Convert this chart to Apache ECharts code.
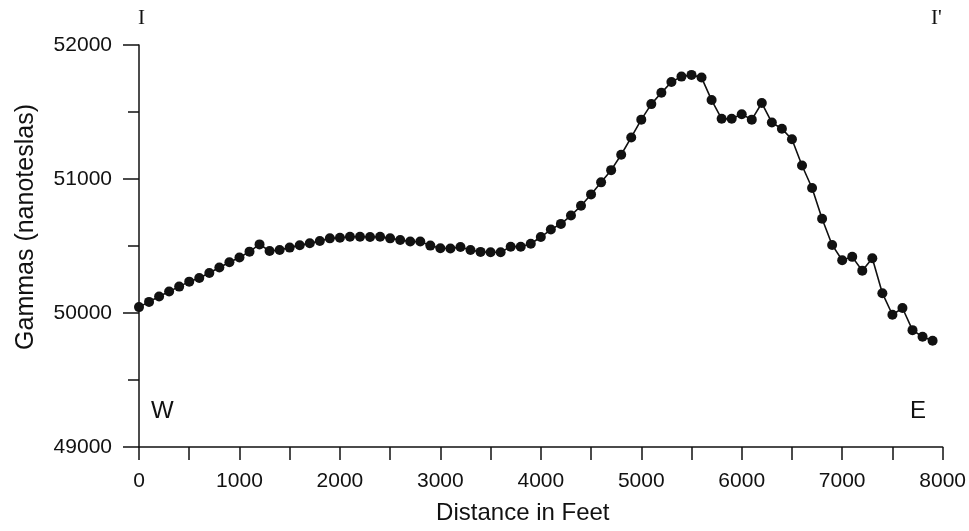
<!DOCTYPE html>
<html>
<head>
<meta charset="utf-8">
<title>Magnetic profile I–I'</title>
<script src="https://cdn.jsdelivr.net/npm/echarts@6/dist/echarts.min.js"></script>
<style>
  html, body { margin: 0; padding: 0; background: #fff; }
  #chart { width: 969px; height: 531px; }
</style>
</head>
<body>
<div id="chart"></div>
<script>
// Station distances along the traverse (feet), one reading every 100 ft
const distanceFt = [
  0, 100, 200, 300, 400, 500, 600, 700, 800, 900,
  1000, 1100, 1200, 1300, 1400, 1500, 1600, 1700, 1800, 1900,
  2000, 2100, 2200, 2300, 2400, 2500, 2600, 2700, 2800, 2900,
  3000, 3100, 3200, 3300, 3400, 3500, 3600, 3700, 3800, 3900,
  4000, 4100, 4200, 4300, 4400, 4500, 4600, 4700, 4800, 4900,
  5000, 5100, 5200, 5300, 5400, 5500, 5600, 5700, 5800, 5900,
  6000, 6100, 6200, 6300, 6400, 6500, 6600, 6700, 6800, 6900,
  7000, 7100, 7200, 7300, 7400, 7500, 7600, 7700, 7800, 7900
];

// Total magnetic field at each station (gammas / nT)
const gammas = [
  50044, 50083, 50123, 50160, 50197, 50234, 50261, 50298, 50340, 50379,
  50414, 50458, 50512, 50463, 50470, 50488, 50505, 50520, 50537, 50557,
  50562, 50569, 50569, 50567, 50569, 50557, 50545, 50533, 50533, 50503,
  50483, 50482, 50493, 50470, 50456, 50453, 50453, 50495, 50495, 50517,
  50567, 50623, 50665, 50727, 50800, 50885, 50975, 51066, 51181, 51310,
  51443, 51559, 51643, 51724, 51764, 51777, 51757, 51589, 51449, 51449,
  51483, 51443, 51567, 51421, 51375, 51296, 51101, 50933, 50704, 50508,
  50394, 50419, 50316, 50409, 50148, 49987, 50037, 49872, 49823, 49793
];

// Axis ranges
const xRange = [0, 8000];
const yRange = [49000, 52000];

// Profile end markers and compass directions
const profileStart = 'I';
const profileEnd = "I'";
const westLabel = 'W';
const eastLabel = 'E';

const sans = '"Liberation Sans", Arial, Helvetica, sans-serif';
const serif = '"Liberation Serif", "Times New Roman", serif';
const ink = '#111';

// plain integers, no thousands separators
const plain = v => String(Math.round(v));

const chart = echarts.init(document.getElementById('chart'), null, { renderer: 'canvas' });

chart.setOption({
  animation: false,
  backgroundColor: '#ffffff',
  grid: { left: 139, right: 22, top: 45, bottom: 84, containLabel: false },
  xAxis: {
    type: 'value',
    min: xRange[0],
    max: xRange[1],
    interval: 1000,
    name: 'Distance in Feet',
    nameLocation: 'middle',
    nameGap: 54,
    // title sits a little left of the axis centre
    nameTextStyle: { fontFamily: sans, fontSize: 24, color: ink, padding: [0, 36, 0, 0] },
    axisLine: { onZero: false, lineStyle: { color: ink, width: 1.5 } },
    axisTick: { inside: false, length: 13, lineStyle: { color: ink, width: 1.5 } },
    minorTick: { show: true, splitNumber: 2, length: 13, lineStyle: { color: ink, width: 1.5 } },
    axisLabel: { margin: 24, fontFamily: sans, fontSize: 21, color: ink, formatter: plain },
    splitLine: { show: false }
  },
  yAxis: {
    type: 'value',
    min: yRange[0],
    max: yRange[1],
    interval: 1000,
    name: 'Gammas (nanoteslas)',
    nameLocation: 'middle',
    nameGap: 100,
    // title sits a little above the axis centre
    nameTextStyle: { fontFamily: sans, fontSize: 25, color: ink, padding: [0, 0, 0, 38] },
    axisLine: { show: true, onZero: false, lineStyle: { color: ink, width: 1.5 } },
    axisTick: { inside: false, length: 16, lineStyle: { color: ink, width: 1.5 } },
    minorTick: { show: true, splitNumber: 2, length: 11, lineStyle: { color: ink, width: 1.5 } },
    axisLabel: { margin: 27, fontFamily: sans, fontSize: 21, color: ink, formatter: plain },
    splitLine: { show: false }
  },
  series: [{
    type: 'line',
    data: distanceFt.map((d, i) => [d, gammas[i]]),
    symbol: 'circle',
    symbolSize: 10,
    showSymbol: true,
    lineStyle: { color: ink, width: 1.6 },
    itemStyle: { color: ink, borderWidth: 0 },
    emphasis: { disabled: true }
  }],
  graphic: [
    { type: 'text', left: 138, top: 8, style: { text: profileStart, font: '21px ' + serif, fill: ink } },
    { type: 'text', left: 931, top: 8, style: { text: profileEnd, font: '21px ' + serif, fill: ink } },
    { type: 'text', left: 151, top: 399, style: { text: westLabel, font: '24px ' + sans, fill: ink } },
    { type: 'text', left: 910, top: 399, style: { text: eastLabel, font: '24px ' + sans, fill: ink } }
  ]
});
</script>
</body>
</html>
